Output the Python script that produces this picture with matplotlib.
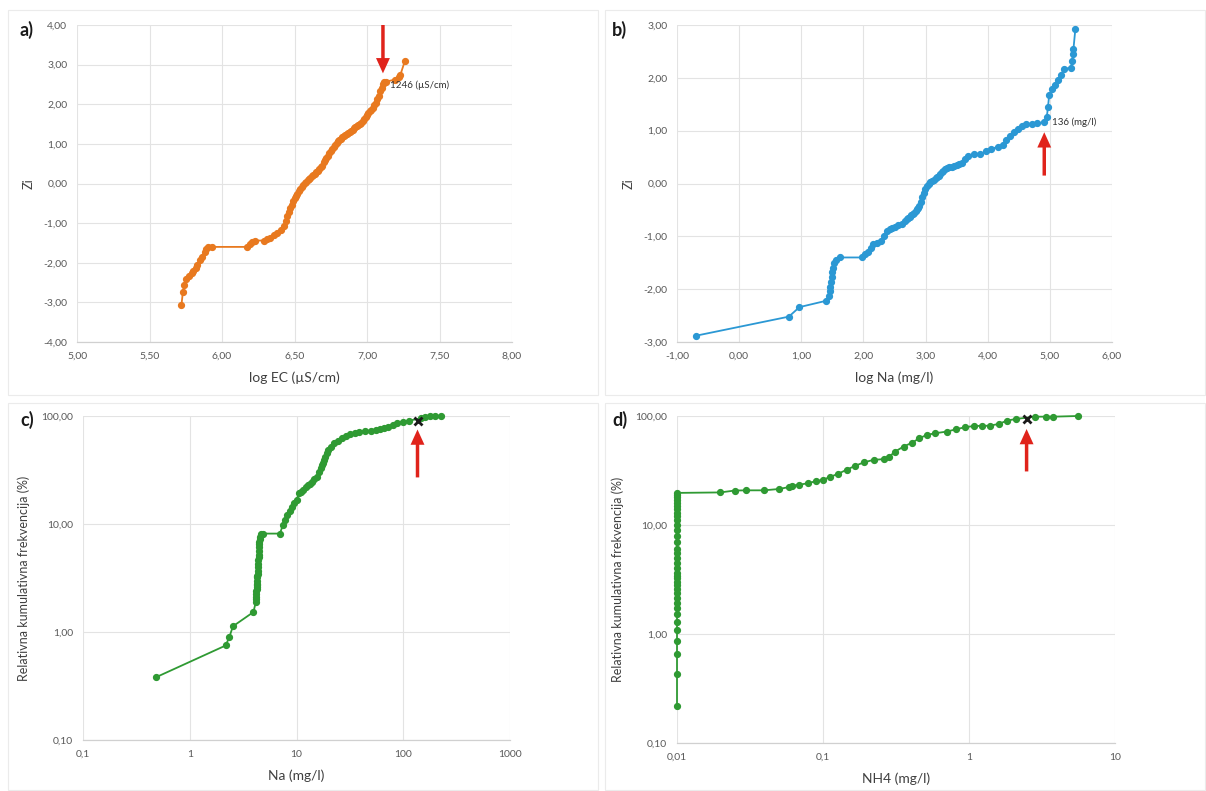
import matplotlib
matplotlib.use("Agg")
import matplotlib.pyplot as plt
from matplotlib.patches import Rectangle
from matplotlib.ticker import FixedLocator, FixedFormatter, NullLocator

plt.rcParams['font.family'] = ['Lato', 'DejaVu Sans']

# ---------------- data ----------------
# a) log EC vs Zi
a_x = [5.72, 5.73, 5.74, 5.75, 5.77, 5.79, 5.80, 5.82, 5.83, 5.85, 5.86, 5.88, 5.89, 5.90,
       5.93, 6.17, 6.19, 6.21, 6.23, 6.29, 6.31, 6.33, 6.36, 6.38, 6.41, 6.43, 6.44, 6.45,
       6.46, 6.47, 6.48, 6.49, 6.50, 6.51, 6.52, 6.53, 6.54, 6.55, 6.56, 6.57, 6.58, 6.59,
       6.60, 6.61, 6.62, 6.63, 6.64, 6.65, 6.66, 6.67, 6.68, 6.69, 6.70, 6.71, 6.72, 6.73,
       6.74, 6.75, 6.76, 6.77, 6.78, 6.79, 6.80, 6.81, 6.82, 6.83, 6.84, 6.85, 6.86, 6.87,
       6.88, 6.89, 6.90, 6.91, 6.92, 6.93, 6.94, 6.95, 6.96, 6.97, 6.98, 6.99, 7.00, 7.01,
       7.02, 7.03, 7.04, 7.05, 7.06, 7.07, 7.08, 7.09, 7.10, 7.11, 7.12, 7.13, 7.19,
       7.22, 7.23, 7.26]
a_z = [-3.07, -2.75, -2.55, -2.40, -2.33, -2.26, -2.20, -2.13, -2.05, -1.93, -1.85, -1.72, -1.65, -1.61,
       -1.60, -1.60, -1.53, -1.47, -1.44, -1.44, -1.41, -1.37, -1.30, -1.24, -1.17, -1.08, -0.95, -0.82,
       -0.72, -0.62, -0.53, -0.44, -0.36, -0.31, -0.27, -0.18, -0.13, -0.09, -0.04, 0.01, 0.05, 0.08,
       0.12, 0.15, 0.18, 0.22, 0.25, 0.28, 0.32, 0.36, 0.41, 0.45, 0.55, 0.60, 0.65, 0.70,
       0.76, 0.82, 0.88, 0.93, 0.98, 1.02, 1.06, 1.10, 1.13, 1.17, 1.20, 1.23, 1.26, 1.28,
       1.30, 1.33, 1.36, 1.39, 1.42, 1.44, 1.47, 1.50, 1.53, 1.57, 1.62, 1.67, 1.72, 1.77,
       1.82, 1.86, 1.91, 1.97, 2.03, 2.12, 2.22, 2.33, 2.42, 2.50, 2.56, 2.57, 2.62,
       2.70, 2.74, 3.08]

# b) log Na vs Zi
b_x = [-0.69, 0.80, 0.97, 1.40, 1.45, 1.46, 1.47, 1.48, 1.49, 1.50, 1.51, 1.53, 1.56, 1.62,
       1.98, 2.02, 2.07, 2.12, 2.16, 2.22, 2.28, 2.33, 2.38, 2.42, 2.46, 2.50, 2.56, 2.62, 2.67,
       2.70, 2.72, 2.75, 2.77, 2.80, 2.82, 2.84, 2.86, 2.88, 2.90, 2.93, 2.95, 2.97, 2.99, 3.02,
       3.05, 3.07, 3.10, 3.13, 3.16, 3.18, 3.21, 3.23, 3.26, 3.28, 3.31, 3.34, 3.38, 3.42, 3.46,
       3.50, 3.54, 3.58, 3.63, 3.69, 3.78, 3.88, 3.98, 4.06, 4.16, 4.24, 4.30,
       4.36, 4.42, 4.48, 4.55, 4.62, 4.72, 4.80, 4.90, 4.95, 4.97, 4.99, 5.03, 5.08, 5.13,
       5.18, 5.23, 5.34, 5.36, 5.37, 5.38, 5.41]
b_z = [-2.88, -2.52, -2.34, -2.22, -2.12, -2.03, -1.95, -1.86, -1.77, -1.68, -1.60, -1.50, -1.44, -1.40,
       -1.40, -1.34, -1.30, -1.22, -1.15, -1.13, -1.08, -1.00, -0.90, -0.86, -0.84, -0.82, -0.78, -0.76, -0.71,
       -0.68, -0.66, -0.63, -0.60, -0.57, -0.55, -0.52, -0.49, -0.46, -0.43, -0.35, -0.26, -0.18, -0.10, -0.05,
       -0.01, 0.02, 0.05, 0.07, 0.10, 0.12, 0.15, 0.18, 0.21, 0.24, 0.27, 0.29, 0.31, 0.32, 0.34,
       0.35, 0.37, 0.39, 0.46, 0.52, 0.55, 0.56, 0.61, 0.66, 0.69, 0.73, 0.82,
       0.90, 0.97, 1.03, 1.09, 1.13, 1.12, 1.14, 1.16, 1.25, 1.45, 1.68, 1.78, 1.86, 1.96,
       2.06, 2.17, 2.19, 2.32, 2.45, 2.55, 2.92]

# c) Na (mg/l) vs cumulative frequency (%)
c_x = [0.48, 2.17, 2.35, 2.54, 3.95, 4.16, 4.17, 4.18, 4.20, 4.21, 4.22, 4.24, 4.25, 4.27,
       4.28, 4.30, 4.31, 4.32, 4.34, 4.36, 4.38, 4.40, 4.41, 4.42, 4.43, 4.45, 4.47, 4.50,
       4.52, 4.55, 4.70, 4.85, 7.00, 7.45, 7.8, 8.2, 8.6, 9.0, 9.5, 10.0, 10.5, 11.0, 11.6,
       12.2, 12.7, 13.3, 14.0, 14.7, 15.4, 16.2, 16.9, 17.4, 17.8, 18.2, 18.6, 19.2, 19.8,
       21.0, 22.5, 24.5, 26.5, 29.0, 32.0, 35.0, 38.6, 44.0, 49.9, 55.0, 60.2, 66.0, 72.7,
       80.0, 87.8, 100, 113, 146, 160, 177, 200, 226]
c_y = [0.38, 0.75, 0.90, 1.13, 1.53, 1.90, 2.00, 2.10, 2.27, 2.40, 2.50, 2.60, 2.70, 2.81,
       2.95, 3.20, 3.33, 3.47, 3.70, 4.0, 4.3, 4.6, 4.9, 5.2, 5.6, 6.1, 6.5, 6.8,
       7.2, 7.6, 8.0, 8.15, 8.15, 9.8, 11.0, 12.1, 13.2, 14.4, 15.6, 16.6, 19.2, 19.9, 20.6,
       21.8, 22.9, 23.6, 24.6, 26.0, 27.4, 30.0, 32.7, 35.0, 37.0, 39.5, 42.0, 45.5, 48.4,
       52.0, 55.8, 59.0, 62.1, 65.0, 68.1, 70.0, 71.6, 72.5, 73.1, 74.0, 75.2, 77.5, 79.6,
       82.5, 85.5, 88.6, 90.5, 95.0, 97.0, 99.0, 100.0, 100.0]
c_mark_x = [136]
c_mark_y = [89]

# d) NH4 (mg/l) vs cumulative frequency (%)
d_x = [0.01] * 36 + [0.0198, 0.0248, 0.0297, 0.0395, 0.050, 0.0587, 0.0614, 0.069, 0.079, 0.089,
       0.100, 0.111, 0.127, 0.145, 0.166, 0.190, 0.222, 0.260, 0.285, 0.312, 0.357, 0.409,
       0.457, 0.513, 0.587, 0.702, 0.815, 0.934, 1.09, 1.22, 1.39, 1.60, 1.82, 2.09, 2.83,
       3.39, 3.78, 5.55]
d_y = [0.22, 0.43, 0.65, 0.86, 1.08, 1.29, 1.51, 1.72, 1.94, 2.15, 2.37, 2.58, 2.8, 3.01,
       3.23, 3.44, 3.66, 4.0, 4.5, 5.0, 5.5, 6.0, 7.0, 8.0, 9.0, 10.0, 11.0, 12.0, 13.0,
       14.0, 15.0, 16.0, 17.0, 18.0, 19.0, 19.7,
       19.9, 20.7, 20.8, 20.8, 21.4, 22.3, 23.0, 23.4, 24.2, 25.2,
       26.0, 27.5, 29.5, 32.1, 34.9, 37.5, 39.6, 40.2, 42.5, 47.2, 52.5, 57.0,
       62.5, 67.0, 69.5, 71.9, 75.5, 78.8, 81.1, 81.1, 81.5, 84.6, 90.6, 93.9, 98.6,
       98.6, 98.6, 100.0]
d_mark_x = [2.48]
d_mark_y = [93]

a_xticks = [5.0, 5.5, 6.0, 6.5, 7.0, 7.5, 8.0]
a_yticks = [-4, -3, -2, -1, 0, 1, 2, 3, 4]
b_xticks = [-1, 0, 1, 2, 3, 4, 5, 6]
b_yticks = [-3, -2, -1, 0, 1, 2, 3]
c_xticks = [0.1, 1, 10, 100, 1000]
c_xlabels = ['0,1', '1', '10', '100', '1000']
d_xticks = [0.01, 0.1, 1, 10]
d_xlabels = ['0,01', '0,1', '1', '10']
log_yticks = [0.1, 1, 10, 100]
log_ylabels = ['0,10', '1,00', '10,00', '100,00']

ORANGE = '#E8791F'
BLUE = '#2B98D4'
GREEN = '#2F9A33'
RED = '#E0231B'
TICK = '#595959'
TITLE = '#404040'
GRID = '#E3E3E3'

fig = plt.figure(figsize=(12.06, 7.91), dpi=100)
W, H = 1206, 791


def ax_at(l, t, r, b):
    return fig.add_axes([l / W, 1 - b / H, (r - l) / W, (b - t) / H])


# panel borders
for (l, t, r, b) in [(8, 10, 598, 395), (605, 10, 1205, 395), (8, 403, 598, 790), (605, 403, 1205, 790)]:
    fig.patches.append(Rectangle((l / W, 1 - b / H), (r - l) / W, (b - t) / H,
                                 transform=fig.transFigure, fill=False,
                                 edgecolor='#EBEBEB', lw=0.8))


def style(ax):
    for s in ['top', 'right', 'left']:
        ax.spines[s].set_visible(False)
    ax.spines['bottom'].set_color('#D0D0D0')
    ax.spines['bottom'].set_linewidth(0.9)
    ax.tick_params(length=0, labelsize=7.5, labelcolor=TICK, pad=7)
    ax.grid(True, which='major', color=GRID, lw=0.8)
    ax.set_axisbelow(True)


def comma(v):
    return f"{v:.2f}".replace('.', ',')


line_kw = dict(lw=1.3, marker='o', ms=4.2, clip_on=False)

# ---- a ----
axa = ax_at(77, 25, 512, 342)
style(axa)
axa.plot(a_x, a_z, color=ORANGE, mec=ORANGE, **line_kw)
axa.set_xlim(5, 8)
axa.set_ylim(-4, 4)
axa.set_xticks(a_xticks)
axa.set_xticklabels([comma(v) for v in a_xticks])
axa.set_yticks(a_yticks)
axa.set_yticklabels([comma(v) for v in a_yticks])
axa.set_xlabel('log EC (µS/cm)', fontsize=10, color=TITLE, labelpad=8)
axa.set_ylabel('Zi', fontsize=9, color=TITLE, labelpad=6)
axa.annotate('', xy=(7.11, 2.78), xytext=(7.11, 4.0),
             arrowprops=dict(facecolor=RED, edgecolor='none', width=2.5, headwidth=10, headlength=11))
axa.text(7.16, 2.48, '1246 (µS/cm)', fontsize=7, color='#303030', va='center', ha='left')

# ---- b ----
axb = ax_at(677, 25, 1112, 342)
style(axb)
axb.plot(b_x, b_z, color=BLUE, mec=BLUE, **line_kw)
axb.set_xlim(-1, 6)
axb.set_ylim(-3, 3)
axb.set_xticks(b_xticks)
axb.set_xticklabels([comma(v) for v in b_xticks])
axb.set_yticks(b_yticks)
axb.set_yticklabels([comma(v) for v in b_yticks])
axb.set_xlabel('log Na (mg/l)', fontsize=10, color=TITLE, labelpad=8)
axb.set_ylabel('Zi', fontsize=9, color=TITLE, labelpad=6)
axb.annotate('', xy=(4.91, 0.97), xytext=(4.91, 0.15),
             arrowprops=dict(facecolor=RED, edgecolor='none', width=2.5, headwidth=10, headlength=11))
axb.text(5.03, 1.16, '136 (mg/l)', fontsize=7, color='#303030', va='center', ha='left')

# ---- c ----
axc = ax_at(83, 416, 510, 740)
style(axc)
axc.set_xscale('log')
axc.set_yscale('log')
axc.plot(c_x, c_y, color=GREEN, mec=GREEN, **line_kw)
axc.plot(c_mark_x, c_mark_y, linestyle='none', marker='x', ms=6, mew=2, color='#1A1A1A', clip_on=False, zorder=5)
axc.set_xlim(0.1, 1000)
axc.set_ylim(0.1, 100)
axc.xaxis.set_major_locator(FixedLocator(c_xticks))
axc.xaxis.set_major_formatter(FixedFormatter(c_xlabels))
axc.xaxis.set_minor_locator(NullLocator())
axc.yaxis.set_major_locator(FixedLocator(log_yticks))
axc.yaxis.set_major_formatter(FixedFormatter(log_ylabels))
axc.yaxis.set_minor_locator(NullLocator())
axc.set_xlabel('Na (mg/l)', fontsize=10, color=TITLE, labelpad=8)
axc.set_ylabel('Relativna kumulativna frekvencija (%)', fontsize=9, color=TITLE, labelpad=8)
axc.annotate('', xy=(136, 75), xytext=(136, 27),
             arrowprops=dict(facecolor=RED, edgecolor='none', width=2.5, headwidth=10, headlength=11))

# ---- d ----
axd = ax_at(677, 416, 1115, 743)
style(axd)
axd.set_xscale('log')
axd.set_yscale('log')
axd.plot(d_x, d_y, color=GREEN, mec=GREEN, **line_kw)
axd.plot(d_mark_x, d_mark_y, linestyle='none', marker='x', ms=6, mew=2, color='#1A1A1A', clip_on=False, zorder=5)
axd.set_xlim(0.01, 10)
axd.set_ylim(0.1, 100)
axd.xaxis.set_major_locator(FixedLocator(d_xticks))
axd.xaxis.set_major_formatter(FixedFormatter(d_xlabels))
axd.xaxis.set_minor_locator(NullLocator())
axd.yaxis.set_major_locator(FixedLocator(log_yticks))
axd.yaxis.set_major_formatter(FixedFormatter(log_ylabels))
axd.yaxis.set_minor_locator(NullLocator())
axd.set_xlabel('NH4 (mg/l)', fontsize=10, color=TITLE, labelpad=8)
axd.set_ylabel('Relativna kumulativna frekvencija (%)', fontsize=9, color=TITLE, labelpad=8)
axd.annotate('', xy=(2.48, 76), xytext=(2.48, 31),
             arrowprops=dict(facecolor=RED, edgecolor='none', width=2.5, headwidth=10, headlength=11))

# panel letters
for lbl, (px, py) in zip(['a)', 'b)', 'c)', 'd)'], [(20, 30), (612, 30), (20, 420), (612, 420)]):
    fig.text(px / W, 1 - py / H, lbl, fontsize=13, fontweight='bold', color='#1A1A1A',
             ha='left', va='center')

fig.savefig('out.png', dpi=100, facecolor='white')
